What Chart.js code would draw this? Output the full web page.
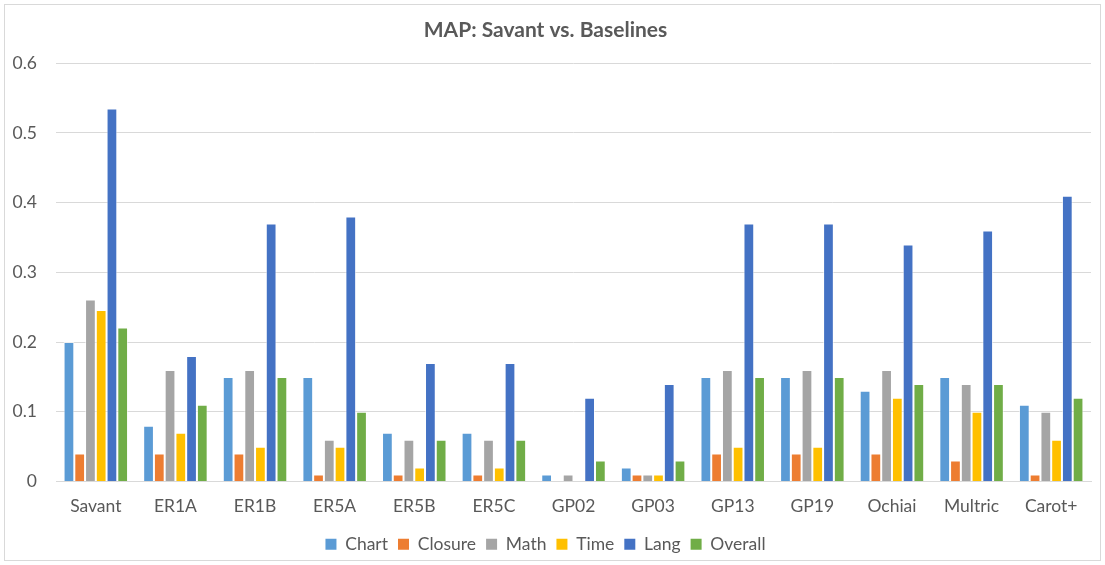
<!DOCTYPE html>
<html>
<head>
<meta charset="utf-8">
<script src="https://cdn.jsdelivr.net/npm/chart.js@4"></script>
<style>
html,body{margin:0;padding:0;background:#fff;}
#wrap{position:relative;width:1105px;height:565px;}
</style>
</head>
<body>
<div id="wrap"><canvas id="c" width="1105" height="565"></canvas></div>
<script>
const categories = ["Savant","ER1A","ER1B","ER5A","ER5B","ER5C","GP02","GP03","GP13","GP19","Ochiai","Multric","Carot+"];
const chartVals   = [0.20,0.08,0.15,0.15,0.07,0.07,0.01,0.02,0.15,0.15,0.13,0.15,0.11];
const closureVals = [0.04,0.04,0.04,0.01,0.01,0.01,0.00,0.01,0.04,0.04,0.04,0.03,0.01];
const mathVals    = [0.261,0.16,0.16,0.06,0.06,0.06,0.01,0.01,0.16,0.16,0.16,0.14,0.10];
const timeVals    = [0.246,0.07,0.05,0.05,0.02,0.02,0.00,0.01,0.05,0.05,0.12,0.10,0.06];
const langVals    = [0.535,0.18,0.37,0.38,0.17,0.17,0.12,0.14,0.37,0.37,0.34,0.36,0.41];
const overallVals = [0.221,0.11,0.15,0.10,0.06,0.06,0.03,0.03,0.15,0.15,0.14,0.14,0.12];
const seriesNames = ["Chart","Closure","Math","Time","Lang","Overall"];
const yTicks = [0,0.1,0.2,0.3,0.4,0.5,0.6];

const colors = ["#5B9BD5","#ED7D31","#A5A5A5","#FFC000","#4472C4","#70AD47"];
const seriesData = [chartVals,closureVals,mathVals,timeVals,langVals,overallVals];
const FONT = "Lato, 'Open Sans', sans-serif";
const TXT = "#595959";

const borderPlugin = {
  id:'frame',
  beforeDraw(chart){
    const ctx = chart.ctx;
    ctx.save();
    ctx.fillStyle='#fff';
    ctx.fillRect(0,0,chart.width,chart.height);
    ctx.strokeStyle='#d9d9d9';
    ctx.lineWidth=1;
    ctx.strokeRect(4.5,4.5,chart.width-9,chart.height-9);
    ctx.restore();
  }
};

new Chart(document.getElementById('c'), {
  type:'bar',
  data:{
    labels:categories,
    datasets: seriesNames.map((n,i)=>({
      label:n,
      data:seriesData[i],
      backgroundColor:colors[i],
      borderColor:'rgba(255,255,255,0.6)',
      borderWidth:{top:1,left:1,right:1,bottom:0},
      categoryPercentage:0.81,
      barPercentage:1.0
    }))
  },
  options:{
    responsive:false,
    animation:false,
    layout:{padding:{left:0,right:14,top:10,bottom:2}},
    plugins:{
      title:{display:true,text:'MAP: Savant vs. Baselines',color:TXT,
        font:{family:FONT,size:21,weight:'bold'},padding:{top:8,bottom:20}},
      legend:{position:'bottom',labels:{color:TXT,font:{family:FONT,size:17.5},
        boxWidth:11,boxHeight:11,padding:10,
        generateLabels(chart){
          return chart.data.datasets.map((d,i)=>({text:d.label,fillStyle:d.backgroundColor,strokeStyle:d.backgroundColor,lineWidth:0,datasetIndex:i,fontColor:TXT}));
        }}},
      tooltip:{enabled:false}
    },
    scales:{
      x:{
        afterFit(s){s.height=44;},
        grid:{display:false,drawTicks:false},
        border:{display:true,color:'#d9d9d9',width:1},
        ticks:{color:TXT,font:{family:FONT,size:17.5},padding:14,maxRotation:0,autoSkip:false}
      },
      y:{
        min:0,max:0.6,
        afterBuildTicks(s){s.ticks=yTicks.map(v=>({value:v}));},
        afterFit(s){s.width=56;},
        grid:{color:'#d9d9d9',drawTicks:false,lineWidth:1},
        border:{display:false},
        ticks:{color:TXT,font:{family:FONT,size:17.5},padding:19,
          callback:v=>v===0?'0':String(Math.round(v*10)/10)}
      }
    }
  },
  plugins:[borderPlugin]
});
</script>
</body>
</html>
